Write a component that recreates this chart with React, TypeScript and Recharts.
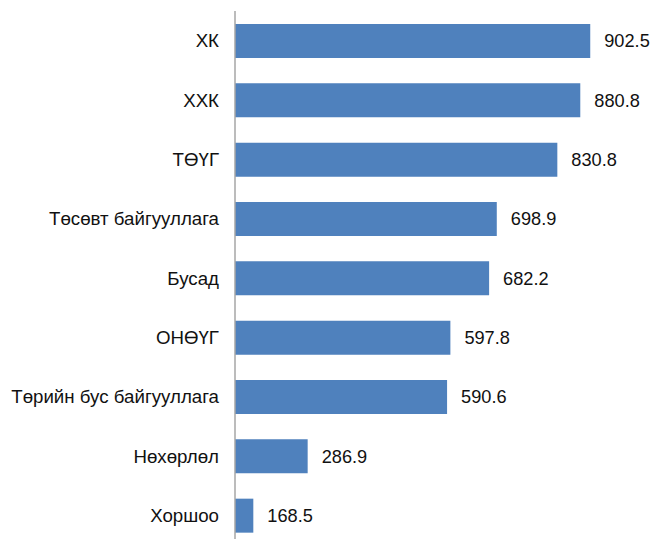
import React from 'react';
import { BarChart, Bar, XAxis, YAxis, LabelList } from 'recharts';

const categories = ['ХК', 'ХХК', 'ТӨҮГ', 'Төсөвт байгууллага', 'Бусад', 'ОНӨҮГ', 'Төрийн бус байгууллага', 'Нөхөрлөл', 'Хоршоо'];
const values = [902.5, 880.8, 830.8, 698.9, 682.2, 597.8, 590.6, 286.9, 168.5];

const data = categories.map((name, i) => ({ name, value: values[i] }));

const font = '"Liberation Sans", Arial, sans-serif';

export default function App() {
  return (
    <div style={{ position: 'absolute', left: 0, top: 0, width: 653, height: 539, overflow: 'hidden', background: '#fff' }}>
      <BarChart
        width={653}
        height={546}
        data={data}
        layout="vertical"
        margin={{ top: 11, right: 18, bottom: 1, left: 0 }}
        barSize={34}
      >
        <XAxis type="number" domain={[128.6, 1000]} allowDataOverflow hide />
        <YAxis
          type="category"
          dataKey="name"
          width={235}
          tickLine={false}
          tickMargin={10}
          axisLine={{ stroke: '#a6a6a6', strokeWidth: 1.5 }}
          tick={{ fill: '#111', fontSize: 18.7, fontFamily: font }}
          interval={0}
        />
        <Bar dataKey="value" fill="#4F81BD" isAnimationActive={false}>
          <LabelList dataKey="value" position="right" offset={14} fill="#111" fontSize={18.2} fontFamily={font} />
        </Bar>
      </BarChart>
    </div>
  );
}
